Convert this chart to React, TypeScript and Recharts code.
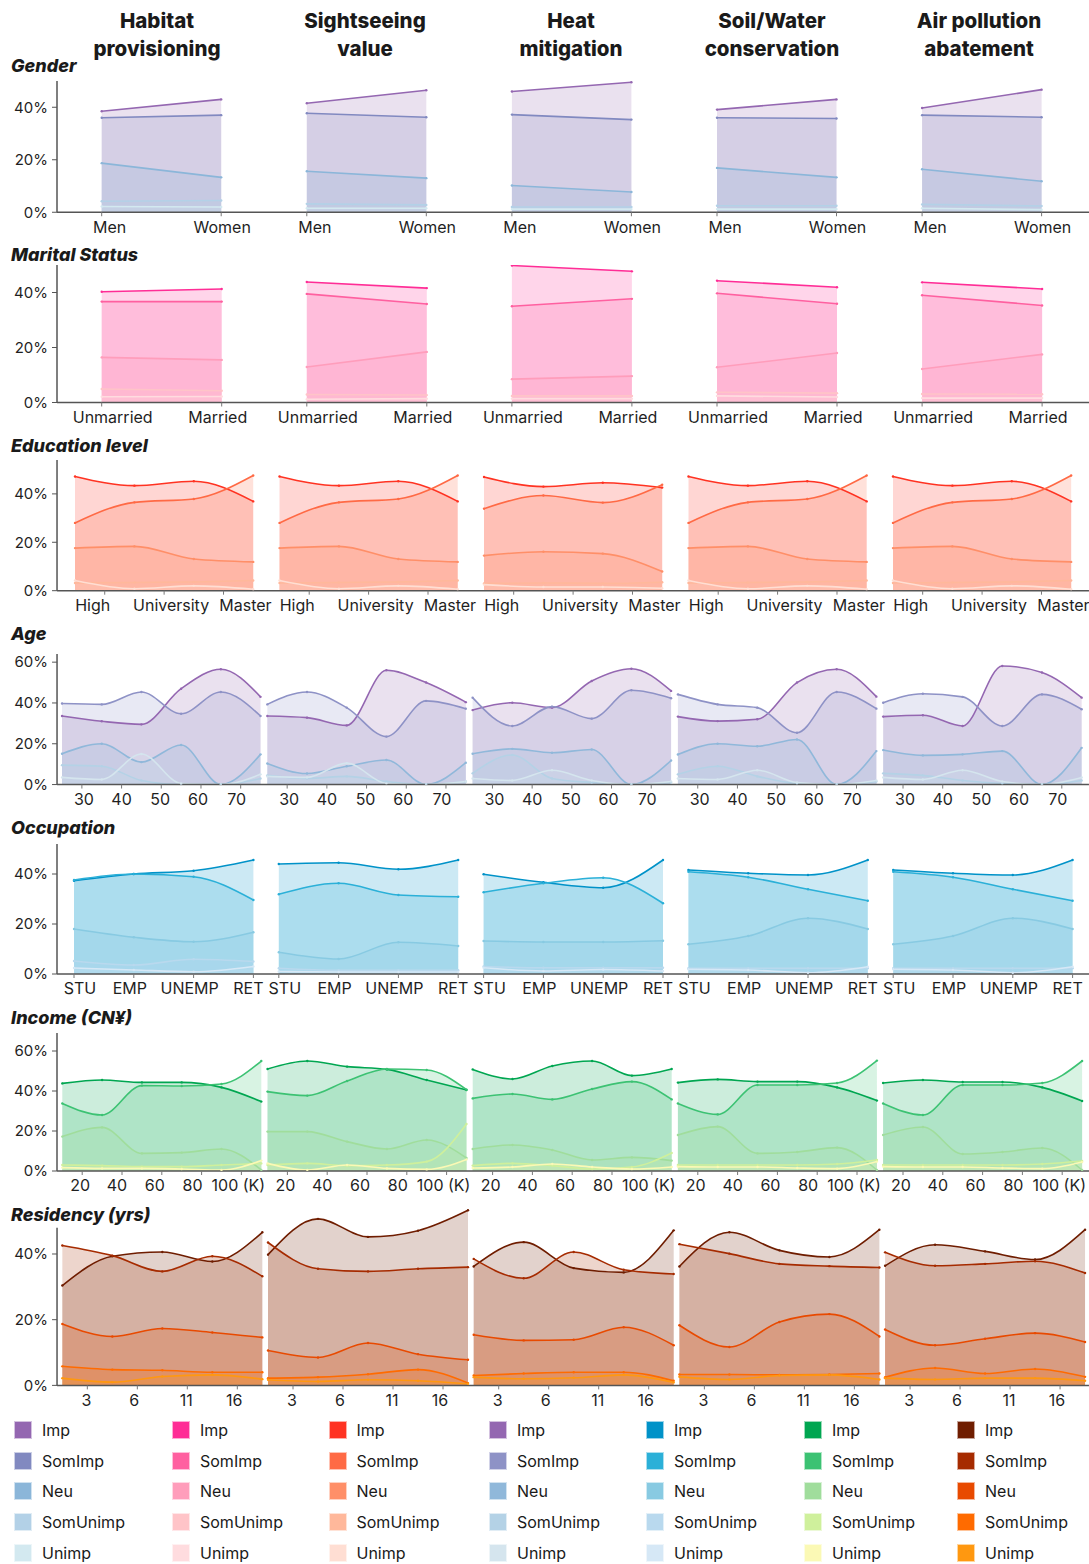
import React from 'react'
import { ComposedChart, Area, Line, XAxis, YAxis, ReferenceLine } from 'recharts'

const FONT = "Inter, 'Noto Sans', 'DejaVu Sans', sans-serif"
const AXIS_X = 57
const CHART_W = 1089
const PLOT_W = CHART_W - AXIS_X
const PAD_TOP = 6
const X_AXIS_H = 30

const LEVELS = ['Imp', 'SomImp', 'Neu', 'SomUnimp', 'Unimp']
const SERVICES = [
  ['Habitat', 'provisioning'],
  ['Sightseeing', 'value'],
  ['Heat', 'mitigation'],
  ['Soil/Water', 'conservation'],
  ['Air pollution', 'abatement'],
]

// one palette per attribute, ordered Imp -> Unimp
const genderColors = ['#9467b1', '#8189c0', '#8bb6d9', '#b3d1e7', '#d3e9f0']
const maritalColors = ['#ff2d96', '#ff60a0', '#ff9dbb', '#ffc4c8', '#ffdcdf']
const eduColors = ['#ff3322', '#ff6a45', '#ff8f68', '#ffb89b', '#ffded3']
const ageColors = ['#9467b1', '#8e92c6', '#90b8da', '#b4d2e6', '#d5e5ee']
const occColors = ['#0092c8', '#2bb0d8', '#88cae2', '#b9d9ee', '#d6e8f6']
const incColors = ['#00a651', '#3cc273', '#a0dd9c', '#cff09c', '#fbf9b5']
const resColors = ['#6f1d00', '#a62b00', '#e84a00', '#ff6b00', '#ff9810']

// category positions and tick labels
const genderX = [0, 1]
const genderLabels = ['Men', 'Women']
const maritalX = [0, 1]
const maritalLabels = ['Unmarried', 'Married']
const eduX = [0, 1, 2, 3]
const eduTicks = [0.5, 1.5, 2.5]
const eduLabels = ['High', 'University', 'Master']
const ageX = [25, 35, 45, 55, 65, 75]
const ageTicks = [30, 40, 50, 60, 70]
const ageLabels = ['30', '40', '50', '60', '70']
const occX = [0, 1, 2, 3]
const occLabels = ['STU', 'EMP', 'UNEMP', 'RET']
const incX = [10, 30, 50, 70, 90, 110]
const incTicks = [20, 40, 60, 80, 100]
const incLabels = ['20', '40', '60', '80', '100 (K)']
const resX = [0, 1, 2, 3, 4]
const resTicks = [0.5, 1.5, 2.5, 3.5]
const resLabels = ['3', '6', '11', '16']

// % of respondents per level: [Imp, SomImp, Neu, SomUnimp, Unimp]
const genderHabitat = [[38.5, 43.0], [36.0, 37.0], [18.7, 13.3], [4.2, 4.5], [2.2, 2.0]]
const genderSightseeing = [[41.5, 46.5], [37.7, 36.2], [15.6, 13.0], [3.2, 2.8], [1.5, 1.5]]
const genderHeat = [[46.0, 49.5], [37.2, 35.3], [10.2, 7.7], [2.0, 2.0], [1.2, 1.2]]
const genderSoil = [[39.1, 43.0], [36.0, 35.7], [16.9, 13.3], [2.5, 2.5], [1.2, 1.2]]
const genderAir = [[39.7, 46.7], [37.0, 36.2], [16.4, 11.8], [3.0, 2.4], [1.5, 1.0]]

const maritalHabitat = [[40.3, 41.3], [36.7, 36.7], [16.4, 15.5], [4.9, 4.3], [2.1, 2.2]]
const maritalSightseeing = [[43.8, 41.6], [39.5, 35.8], [12.9, 18.4], [2.9, 2.7], [1.2, 1.4]]
const maritalHeat = [[49.8, 47.7], [35.0, 37.7], [8.5, 9.6], [2.4, 2.4], [1.4, 1.4]]
const maritalSoil = [[44.3, 41.9], [39.7, 35.9], [12.8, 18.0], [3.7, 3.4], [2.4, 2.0]]
const maritalAir = [[43.7, 41.3], [39.0, 35.3], [12.2, 17.5], [3.1, 3.0], [1.6, 1.6]]

const eduHabitat = [[47.2, 43.4, 45.2, 36.9], [28.0, 36.5, 37.9, 47.6], [17.6, 18.3, 13.1, 11.9], [3.2, 3.4, 3.6, 4.2], [4.2, 0.8, 2.0, 0.6]]
const eduSightseeing = [[47.2, 43.4, 45.2, 36.9], [28.0, 36.5, 37.9, 47.6], [17.6, 18.3, 13.1, 11.9], [3.2, 3.4, 3.6, 4.2], [4.2, 0.8, 2.0, 0.6]]
const eduHeat = [[47.0, 43.0, 44.6, 42.6], [33.9, 39.3, 36.4, 43.8], [14.5, 16.1, 15.3, 7.9], [3.0, 3.2, 3.0, 3.5], [2.5, 1.5, 1.5, 1.0]]
const eduSoil = [[47.2, 43.4, 45.2, 36.9], [28.0, 36.5, 37.9, 47.6], [17.6, 18.3, 13.1, 11.9], [3.2, 3.4, 3.6, 4.2], [4.2, 0.8, 2.0, 0.6]]
const eduAir = [[47.2, 43.4, 45.2, 36.9], [28.0, 36.5, 37.9, 47.6], [17.6, 18.3, 13.1, 11.9], [3.2, 3.4, 3.6, 4.2], [4.2, 0.8, 2.0, 0.6]]

const ageHabitat = [[33.6, 31.0, 29.5, 47.0, 56.5, 43.0], [39.7, 39.3, 45.4, 34.7, 45.4, 33.6], [15.1, 20.0, 11.0, 19.4, 0.0, 14.8], [9.5, 9.0, 2.0, 0.0, 0.0, 3.0], [3.5, 2.5, 15.0, 0.5, 0.0, 5.0]]
const ageSightseeing = [[33.6, 32.8, 29.0, 56.0, 50.0, 40.4], [39.3, 45.4, 37.7, 23.5, 41.0, 37.2], [10.3, 5.4, 9.0, 12.0, 0.0, 10.7], [4.5, 3.0, 4.0, 1.5, 0.0, 1.5], [4.0, 3.5, 10.5, 0.5, 0.0, 1.5]]
const ageHeat = [[36.5, 40.1, 37.7, 50.8, 56.8, 45.9], [42.6, 28.7, 38.2, 32.3, 46.2, 42.3], [15.1, 17.5, 15.6, 17.2, 0.0, 11.8], [5.5, 14.5, 3.0, 1.0, 0.0, 1.0], [3.0, 2.0, 7.0, 2.0, 0.0, 1.5]]
const ageSoil = [[33.3, 31.1, 32.0, 50.0, 56.5, 43.1], [44.2, 39.3, 37.7, 25.4, 45.4, 37.2], [14.7, 20.0, 18.8, 22.1, 0.0, 16.4], [5.0, 9.0, 4.0, 0.5, 0.0, 1.5], [3.0, 2.5, 7.0, 1.0, 0.0, 2.0]]
const ageAir = [[33.3, 34.0, 28.7, 58.1, 54.9, 42.6], [40.1, 44.5, 43.0, 28.7, 44.2, 36.9], [16.9, 14.3, 14.8, 16.4, 0.0, 18.0], [5.5, 4.5, 2.0, 0.5, 0.0, 2.0], [3.5, 2.5, 7.0, 1.5, 0.0, 3.5]]

const occHabitat = [[37.3, 40.0, 41.3, 45.6], [37.6, 40.0, 38.9, 29.6], [18.0, 14.7, 12.9, 16.7], [5.2, 3.6, 5.9, 5.0], [2.4, 1.6, 0.9, 3.0]]
const occSightseeing = [[44.0, 44.5, 41.9, 45.6], [31.9, 36.3, 31.6, 30.9], [8.7, 6.0, 12.7, 11.2], [2.3, 1.5, 1.5, 1.5], [1.0, 0.8, 0.8, 0.8]]
const occHeat = [[39.9, 36.7, 34.5, 45.6], [32.7, 36.3, 38.5, 28.3], [13.2, 12.8, 12.8, 13.3], [3.0, 2.5, 2.5, 2.5], [2.5, 1.2, 1.8, 1.2]]
const occSoil = [[41.6, 40.3, 39.6, 45.6], [40.9, 38.7, 33.9, 29.3], [11.9, 15.2, 22.3, 18.0], [2.3, 2.3, 2.3, 2.3], [1.9, 1.6, 0.5, 2.9]]
const occAir = [[41.6, 40.3, 39.6, 45.6], [40.9, 38.7, 33.9, 29.3], [11.9, 15.2, 22.3, 18.0], [2.3, 2.3, 2.3, 2.3], [1.9, 1.6, 0.5, 2.9]]

const incHabitat = [[43.8, 45.5, 44.3, 44.3, 41.8, 34.7], [33.8, 28.0, 42.7, 42.5, 43.5, 55.0], [17.2, 21.8, 8.8, 9.2, 11.0, 0.5], [3.0, 2.7, 2.2, 2.2, 3.0, 3.8], [1.7, 1.3, 1.3, 1.0, 0.5, 5.2]]
const incSightseeing = [[51.0, 55.0, 52.2, 50.8, 45.5, 40.5], [39.7, 37.7, 45.0, 51.0, 50.5, 40.7], [19.7, 19.7, 14.7, 11.0, 15.5, 6.5], [3.0, 3.8, 2.7, 3.0, 4.7, 23.5], [3.8, 0.5, 3.0, 1.3, 0.8, 5.8]]
const incHeat = [[50.8, 46.0, 52.5, 55.0, 47.7, 51.0], [36.3, 38.5, 35.8, 41.0, 44.7, 35.8], [11.0, 13.0, 10.5, 5.5, 6.8, 5.2], [2.7, 3.8, 2.7, 1.0, 2.0, 9.0], [1.5, 2.0, 3.5, 2.0, 1.0, 2.0]]
const incSoil = [[44.2, 45.8, 44.7, 44.7, 41.8, 35.2], [33.8, 28.3, 43.0, 43.0, 44.0, 55.2], [18.0, 22.2, 8.8, 9.5, 11.7, 0.5], [3.0, 3.0, 3.0, 3.0, 3.5, 5.5], [2.2, 2.0, 2.0, 1.5, 1.2, 4.7]]
const incAir = [[44.0, 45.5, 44.5, 44.5, 41.8, 35.0], [33.8, 28.0, 43.0, 43.0, 44.0, 55.0], [18.0, 22.0, 8.5, 9.5, 11.5, 0.5], [3.0, 3.0, 3.0, 3.0, 3.5, 5.0], [2.2, 2.0, 2.0, 1.5, 1.2, 4.5]]

const resHabitat = [[30.4, 39.3, 40.6, 37.7, 46.6], [42.6, 39.5, 34.7, 39.3, 33.2], [18.7, 14.9, 17.3, 16.1, 14.6], [5.8, 4.8, 4.6, 4.0, 4.0], [2.2, 1.0, 2.7, 3.2, 1.9]]
const resSightseeing = [[39.8, 50.7, 45.2, 47.1, 53.3], [43.5, 35.5, 34.7, 35.5, 36.0], [10.6, 8.5, 12.9, 9.5, 7.8], [2.2, 2.5, 3.4, 4.8, 0.7], [1.7, 1.2, 1.7, 1.4, 0.5]]
const resHeat = [[36.2, 43.6, 35.7, 34.4, 47.2], [38.5, 32.6, 40.6, 35.2, 33.9], [15.4, 13.7, 13.9, 17.7, 12.2], [3.0, 3.6, 4.0, 4.0, 1.4], [2.5, 2.0, 2.3, 3.2, 0.9]]
const resSoil = [[36.2, 46.6, 41.1, 39.1, 47.4], [43.0, 40.1, 37.0, 36.3, 35.9], [18.3, 11.7, 19.3, 21.7, 14.9], [3.3, 3.3, 3.2, 3.3, 3.6], [2.6, 1.8, 3.0, 3.2, 1.8]]
const resAir = [[36.4, 42.8, 40.8, 38.3, 47.4], [40.5, 36.4, 37.0, 37.8, 34.2], [17.0, 12.2, 14.2, 15.9, 13.2], [2.5, 5.3, 3.6, 5.0, 2.6], [2.2, 1.8, 2.2, 2.2, 1.4]]

type Curve = 'linear' | 'monotone'

interface RowSpec {
  title: string
  titleY: number
  xs: number[]
  ticks: number[]
  labels: string[]
  labelShift: number[]
  panels: number[][][]
  colors: string[]
  curve: Curve
  yMax: number
  yTicks: number[]
  axisTop?: number // y axis line stops here when the plot runs higher
  y0: number // pixel row of 0%
  pxPerPct: number
  start: number // pixel of the first point in the first panel
  unit: number // pixels per x unit
  step: number // pixels between neighbouring panels
}

const ROWS: RowSpec[] = [
  {
    title: 'Gender', titleY: 66, xs: genderX, ticks: genderX, labels: genderLabels, labelShift: [8, 1],
    panels: [genderHabitat, genderSightseeing, genderHeat, genderSoil, genderAir], colors: genderColors,
    curve: 'linear', yMax: 50, yTicks: [0, 20, 40], y0: 212, pxPerPct: 2.625, start: 101.7, unit: 119.5, step: 205.1,
  },
  {
    title: 'Marital Status', titleY: 255, xs: maritalX, ticks: maritalX, labels: maritalLabels, labelShift: [11, -4],
    panels: [maritalHabitat, maritalSightseeing, maritalHeat, maritalSoil, maritalAir], colors: maritalColors,
    curve: 'linear', yMax: 50, yTicks: [0, 20, 40], y0: 402, pxPerPct: 2.75, start: 101.7, unit: 120, step: 205.1,
  },
  {
    title: 'Education level', titleY: 446, xs: eduX, ticks: eduTicks, labels: eduLabels, labelShift: [-12, 7, 22],
    panels: [eduHabitat, eduSightseeing, eduHeat, eduSoil, eduAir], colors: eduColors,
    curve: 'monotone', yMax: 54, yTicks: [0, 20, 40], y0: 590.5, pxPerPct: 2.42, start: 75, unit: 59.4, step: 204.5,
  },
  {
    title: 'Age', titleY: 634, xs: ageX, ticks: ageTicks, labels: ageLabels, labelShift: [2, 0, -1, -3, -4],
    panels: [ageHabitat, ageSightseeing, ageHeat, ageSoil, ageAir], colors: ageColors,
    curve: 'monotone', yMax: 64, yTicks: [0, 20, 40, 60], y0: 785, pxPerPct: 2.04, start: 62, unit: 3.97, step: 205.3,
  },
  {
    title: 'Occupation', titleY: 828, xs: occX, ticks: occX, labels: occLabels, labelShift: [6, -4, -4, -5],
    panels: [occHabitat, occSightseeing, occHeat, occSoil, occAir], colors: occColors,
    curve: 'monotone', yMax: 52, yTicks: [0, 20, 40], y0: 974, pxPerPct: 2.5, start: 74, unit: 59.8, step: 204.8,
  },
  {
    title: 'Income (CN¥)', titleY: 1018, xs: incX, ticks: incTicks, labels: incLabels, labelShift: [-2, -5, -7, -9, -3],
    panels: [incHabitat, incSightseeing, incHeat, incSoil, incAir], colors: incColors,
    curve: 'monotone', yMax: 69, yTicks: [0, 20, 40, 60], y0: 1171, pxPerPct: 2.0, start: 62.3, unit: 1.99, step: 205.2,
  },
  {
    title: 'Residency (yrs)', titleY: 1215, xs: resX, ticks: resTicks, labels: resLabels, labelShift: [-1, -3, -1, -3],
    panels: [resHabitat, resSightseeing, resHeat, resSoil, resAir], colors: resColors,
    curve: 'monotone', yMax: 54, yTicks: [0, 20, 40], axisTop: 48, y0: 1385.5, pxPerPct: 3.285, start: 62.3, unit: 50, step: 205.7,
  },
]

const HEADER_X = [157, 365, 571, 772, 979]
const LEGEND_X = [14, 172, 328.5, 489, 646, 804, 957]
const LEGEND_Y = [1430, 1460.5, 1490.5, 1521.5, 1553]

const AXIS_STYLE = { stroke: '#555', strokeWidth: 1.5 }

function PanelRow({ row }: { row: RowSpec }) {
  const offset = row.step / row.unit
  const xMin = row.xs[0] - (row.start - AXIS_X) / row.unit
  const xMax = xMin + PLOT_W / row.unit

  // one record per point; keys of the other panels stay undefined so each panel is its own segment
  const data: Record<string, number>[] = []
  row.panels.forEach((panel, p) => {
    row.xs.forEach((c, i) => {
      const d: Record<string, number> = { x: p * offset + c }
      panel.forEach((series, l) => { d[`s${p}_${l}`] = series[i] })
      data.push(d)
    })
  })

  const tickVals: number[] = []
  const tickText: string[] = []
  const tickDx: number[] = []
  row.panels.forEach((_, p) => {
    row.ticks.forEach((t, j) => {
      tickVals.push(p * offset + t)
      tickText.push(row.labels[j])
      tickDx.push(row.labelShift[j])
    })
  })

  const plotH = row.yMax * row.pxPerPct
  const top = row.y0 - plotH - PAD_TOP
  const height = PAD_TOP + plotH + X_AXIS_H

  const renderTick = (props: any) => {
    const { x, y, index } = props
    return (
      <text x={x + tickDx[index]} y={y} dy="0.71em" textAnchor="middle" fontSize={16} fill="#1f1f1f" fontFamily={FONT}>
        {tickText[index]}
      </text>
    )
  }

  const keys: { key: string; color: string }[] = []
  row.panels.forEach((panel, p) => panel.forEach((_, l) => keys.push({ key: `s${p}_${l}`, color: row.colors[l] })))

  return (
    <div style={{ position: 'absolute', left: 0, top }}>
      <ComposedChart width={CHART_W} height={height} data={data} margin={{ top: PAD_TOP, right: 0, bottom: 0, left: 0 }}>
        <XAxis
          type="number"
          dataKey="x"
          domain={[xMin, xMax]}
          allowDataOverflow
          ticks={tickVals}
          interval={0}
          height={X_AXIS_H}
          axisLine={AXIS_STYLE}
          tickLine={{ stroke: '#777' }}
          tickSize={4}
          tickMargin={5}
          tick={renderTick}
        />
        <YAxis
          type="number"
          domain={[0, row.yMax]}
          allowDataOverflow
          ticks={row.yTicks}
          width={AXIS_X}
          axisLine={row.axisTop == null ? AXIS_STYLE : false}
          tickLine={{ stroke: '#555' }}
          tickSize={5}
          tickMargin={4}
          tickFormatter={(v: number) => `${v}%`}
          tick={{ fontSize: 15, fill: '#1f1f1f', fontFamily: FONT }}
        />
        {row.axisTop != null && (
          <ReferenceLine
            segment={[{ x: xMin, y: 0 }, { x: xMin, y: row.axisTop }]}
            stroke="#555"
            strokeWidth={1.5}
          />
        )}
        {keys.map(k => (
          <Area
            key={`a-${k.key}`}
            dataKey={k.key}
            type={row.curve}
            stroke="none"
            fill={k.color}
            fillOpacity={0.2}
            connectNulls={false}
            dot={false}
            activeDot={false}
            isAnimationActive={false}
          />
        ))}
        {keys.map(k => (
          <Line
            key={`l-${k.key}`}
            dataKey={k.key}
            type={row.curve}
            stroke={k.color}
            strokeWidth={1.6}
            connectNulls={false}
            dot={{ r: 1.2, fill: k.color, stroke: 'none' }}
            activeDot={false}
            isAnimationActive={false}
          />
        ))}
      </ComposedChart>
    </div>
  )
}

export default function App() {
  const legendPalettes = [genderColors, maritalColors, eduColors, ageColors, occColors, incColors, resColors]
  return (
    <div style={{ position: 'absolute', left: 0, top: 0, width: 1089, height: 1564, background: '#fff', fontFamily: FONT, color: '#1a1a1a', overflow: 'hidden' }}>
      {SERVICES.map((s, i) => (
        <div
          key={s[1]}
          style={{ position: 'absolute', left: HEADER_X[i] - 120, width: 240, top: 7, textAlign: 'center', fontWeight: 800, fontSize: 20.5, lineHeight: '27.6px' }}
        >
          {s[0]}
          <br />
          {s[1]}
        </div>
      ))}

      {ROWS.map(row => (
        <PanelRow key={row.title} row={row} />
      ))}

      {ROWS.map(row => (
        <div
          key={`t-${row.title}`}
          style={{ position: 'absolute', left: 11, top: row.titleY - 11, fontSize: 18, lineHeight: '22px', fontWeight: 800, fontStyle: 'italic', whiteSpace: 'nowrap' }}
        >
          {row.title}
        </div>
      ))}

      {legendPalettes.map((pal, c) =>
        LEVELS.map((lvl, l) => (
          <div
            key={`lg-${c}-${l}`}
            style={{ position: 'absolute', left: LEGEND_X[c], top: LEGEND_Y[l] - 10, height: 20, display: 'flex', alignItems: 'center', whiteSpace: 'nowrap' }}
          >
            <div style={{ width: 18, height: 18, background: pal[l], boxSizing: 'border-box', border: '1px solid rgba(255,255,255,0.6)' }} />
            <span style={{ marginLeft: 10, fontSize: 16 }}>{lvl}</span>
          </div>
        ))
      )}
    </div>
  )
}
